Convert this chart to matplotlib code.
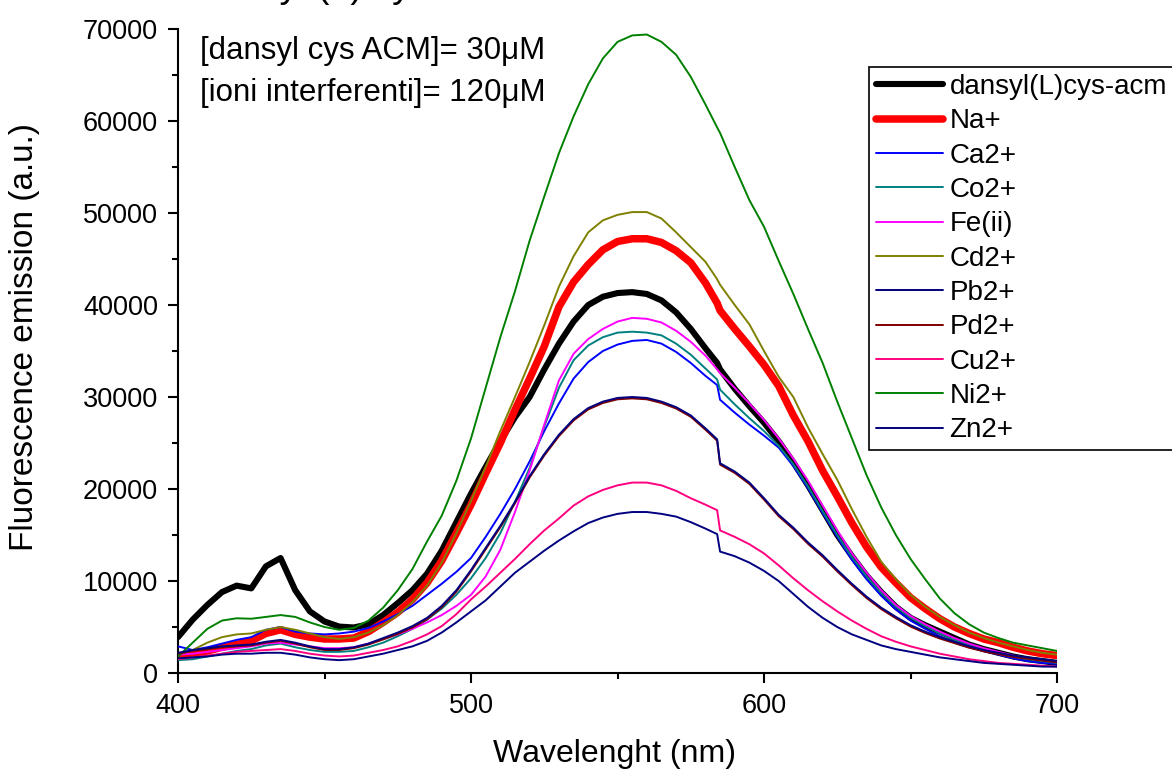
import matplotlib
matplotlib.use("Agg")
import matplotlib.pyplot as plt
from matplotlib.ticker import MultipleLocator

plt.rcParams['font.family'] = ['Liberation Sans', 'DejaVu Sans']

wavelength = [400, 405, 410, 415, 420, 425, 430, 435, 440, 445, 450, 455, 460, 465, 470,
              475, 480, 485, 490, 495, 500, 505, 510, 515, 520, 525, 530, 535, 540, 545,
              550, 555, 560, 565, 570, 575, 580, 584, 585, 590, 595, 600, 605, 610, 615,
              620, 625, 630, 635, 640, 645, 650, 655, 660, 665, 670, 675, 680, 685, 690,
              695, 700]

dansyl = [3900, 5800, 7400, 8800, 9500, 9200, 11600, 12500, 9000, 6700, 5600, 5050, 4950, 5300, 6300,
          7600, 9000, 10800, 13300, 16400, 19500, 22400, 25200, 27800, 30000, 33000, 35800, 38200, 40000, 40900,
          41300, 41400, 41200, 40500, 39200, 37400, 35300, 33700, 33000, 30900, 29000, 27200, 25200, 22900, 20400,
          17700, 15000, 12700, 10600, 8800, 7200, 6000, 5200, 4500, 3800, 3100, 2600, 2200, 1800, 1500,
          1300, 1100]
na = [1800, 2100, 2400, 2800, 3100, 3500, 4300, 4700, 4200, 3900, 3700, 3700, 3800, 4500, 5500,
      6600, 8000, 9800, 12200, 15200, 18300, 21700, 25000, 28600, 32000, 35500, 39800, 42500, 44400, 46000,
      46900, 47200, 47200, 46800, 45900, 44600, 42400, 40200, 39400, 37400, 35500, 33500, 31200, 28000, 25200,
      22000, 19200, 16300, 13700, 11500, 9800, 8200, 7000, 5900, 5000, 4300, 3700, 3300, 2800, 2400,
      2100, 1900]
ca = [2900, 2500, 2800, 3200, 3600, 3900, 4700, 5000, 4500, 4300, 4200, 4300, 4500, 4900, 5600,
      6400, 7300, 8500, 9700, 11000, 12500, 14800, 17300, 20000, 23000, 26300, 29300, 32000, 33800, 35000,
      35700, 36100, 36200, 35800, 34900, 33700, 32300, 31300, 29700, 28300, 27000, 25800, 24500, 22500, 20100,
      17400, 14800, 12300, 10200, 8400, 6900, 5700, 4800, 4000, 3300, 2800, 2400, 2000, 1600, 1300,
      1100, 1000]
co = [1400, 1500, 1800, 2100, 2400, 2600, 3000, 3200, 2800, 2500, 2300, 2300, 2400, 2800, 3300,
      4000, 4800, 5800, 7000, 8500, 10300, 12500, 15200, 18600, 22300, 26800, 31000, 34000, 35600, 36500,
      37000, 37100, 37000, 36700, 35800, 34600, 33100, 31900, 30800, 29200, 27700, 26300, 24700, 22700, 20300,
      17600, 15000, 12600, 10500, 8700, 7200, 6000, 5100, 4300, 3600, 3000, 2600, 2200, 1800, 1500,
      1300, 1100]
fe = [2000, 2100, 2300, 2500, 2700, 2900, 3200, 3300, 3100, 2900, 2700, 2700, 2800, 3200, 3700,
      4200, 4800, 5500, 6300, 7300, 8500, 10500, 13400, 17500, 22000, 27000, 31800, 34700, 36300, 37400,
      38200, 38600, 38500, 38100, 37200, 36000, 34500, 33000, 32600, 31000, 29300, 27500, 25500, 23300, 20900,
      18200, 15500, 13000, 10900, 9000, 7400, 6200, 5300, 4500, 3800, 3200, 2700, 2300, 1900, 1600,
      1400, 1200]
cd = [2000, 2500, 3300, 3900, 4200, 4300, 4700, 5000, 4700, 4300, 3900, 3700, 3900, 4400, 5200,
      6300, 7700, 9500, 12000, 15200, 18700, 22400, 26300, 30000, 33800, 37800, 42000, 45300, 47900, 49200,
      49800, 50100, 50100, 49400, 47900, 46300, 44700, 42800, 42200, 40000, 37900, 35000, 32200, 30000, 26700,
      23800, 21000, 17800, 14800, 12100, 10200, 8500, 7200, 6100, 5200, 4400, 3800, 3300, 2900, 2500,
      2200, 2000]
pb = [2200, 2500, 2700, 2900, 3000, 3100, 3400, 3600, 3300, 2900, 2600, 2600, 2800, 3200, 3800,
      4400, 5100, 6000, 7300, 9000, 11200, 13600, 16000, 18600, 21400, 23800, 25900, 27600, 28800, 29500,
      29900, 30000, 29900, 29500, 28900, 28000, 26600, 25400, 22800, 21900, 20700, 19000, 17200, 15800, 14200,
      12800, 11200, 9700, 8300, 7100, 6100, 5200, 4500, 3900, 3400, 2900, 2500, 2200, 1900, 1700,
      1500, 1300]
pd_ = [2100, 2400, 2600, 2800, 2900, 3000, 3300, 3500, 3200, 2800, 2500, 2500, 2700, 3100, 3650,
       4250, 4950, 5850, 7150, 8850, 11050, 13450, 15850, 18450, 21250, 23650, 25750, 27450, 28650, 29350,
       29750, 29850, 29750, 29350, 28750, 27850, 26450, 25250, 22650, 21750, 20550, 18850, 17050, 15650, 14050,
       12650, 11050, 9550, 8150, 6950, 5950, 5050, 4350, 3750, 3250, 2750, 2350, 2050, 1750, 1550,
       1350, 1150]
cu = [1500, 1700, 1900, 2100, 2300, 2400, 2500, 2600, 2400, 2100, 1900, 1800, 1900, 2200, 2500,
      2900, 3500, 4200, 5100, 6400, 8000, 9400, 10900, 12400, 14000, 15500, 16800, 18200, 19200, 19900,
      20400, 20700, 20700, 20400, 19800, 19000, 18300, 17700, 15500, 14800, 14000, 13000, 11700, 10300, 9000,
      7800, 6700, 5700, 4800, 4000, 3400, 2900, 2500, 2100, 1800, 1500, 1300, 1100, 1000, 900,
      800, 700]
ni = [1800, 3300, 4800, 5700, 5950, 5900, 6100, 6300, 6100, 5500, 5000, 4700, 4900, 5700, 7100,
      9000, 11300, 14300, 17100, 20900, 25500, 31000, 36500, 41500, 47000, 51800, 56500, 60500, 64000, 66800,
      68600, 69300, 69400, 68600, 67200, 64800, 61800, 59300, 58700, 55000, 51400, 48500, 44800, 41200, 37400,
      33700, 29500, 25500, 21500, 18000, 15000, 12400, 10200, 8100, 6500, 5300, 4400, 3800, 3300, 3000,
      2700, 2400]
zn = [1600, 1700, 1800, 2000, 2100, 2100, 2200, 2200, 2000, 1700, 1500, 1400, 1500, 1800, 2100,
      2500, 2900, 3500, 4400, 5500, 6700, 7900, 9400, 10900, 12100, 13300, 14400, 15400, 16300, 16900,
      17300, 17500, 17500, 17300, 17000, 16400, 15700, 15100, 13200, 12700, 12000, 11100, 10000, 8600, 7200,
      6000, 5000, 4200, 3600, 3000, 2600, 2300, 2000, 1700, 1500, 1300, 1100, 1000, 900, 800,
      700, 700]

labels = ["dansyl(L)cys-acm", "Na+", "Ca2+", "Co2+", "Fe(ii)", "Cd2+", "Pb2+", "Pd2+", "Cu2+", "Ni2+", "Zn2+"]
series = [dansyl, na, ca, co, fe, cd, pb, pd_, cu, ni, zn]
colors = ["#000000", "#ff0000", "#0000ff", "#008080", "#ff00ff", "#808000",
          "#000080", "#800000", "#ff0080", "#008000", "#000080"]
widths = [4.4, 5.4, 1.4, 1.4, 1.4, 1.4, 1.4, 1.4, 1.4, 1.4, 1.4]
zorders = [2, 2, 3, 3, 3, 3, 3.2, 3.1, 3, 3, 3]

fig = plt.figure(figsize=(11.72, 7.69), dpi=100)
ax = fig.add_axes([0.1519, 0.1248, 0.7500, 0.8375])

lines = []
for y, lab, c, w, z in zip(series, labels, colors, widths, zorders):
    ln, = ax.plot(wavelength, y, color=c, lw=w, label=lab, zorder=z,
                  solid_capstyle='round', solid_joinstyle='round')
    lines.append(ln)

ax.set_xlim(400, 700)
ax.set_ylim(0, 70000)
ax.xaxis.set_major_locator(MultipleLocator(100))
ax.xaxis.set_minor_locator(MultipleLocator(50))
ax.yaxis.set_major_locator(MultipleLocator(10000))
ax.yaxis.set_minor_locator(MultipleLocator(5000))
ax.tick_params(which='major', direction='out', length=7.5, width=1.5, labelsize=19.5, pad=7)
ax.tick_params(which='minor', direction='out', length=4, width=1.5)
for s in ['top', 'right']:
    ax.spines[s].set_visible(False)
for s in ['left', 'bottom']:
    ax.spines[s].set_linewidth(1.5)

ax.set_xlabel("Wavelenght (nm)", fontsize=23)
ax.set_ylabel("Fluorescence emission (a.u.)", fontsize=24)
ax.xaxis.set_label_coords(0.497, -0.103)
ax.yaxis.set_label_coords(-0.157, 0.522)

ax.text(0.025, 0.966, "[dansyl cys ACM]= 30\u03bcM", transform=ax.transAxes,
        fontsize=22.5, va='center', ha='left')
ax.text(0.025, 0.900, "[ioni interferenti]= 120\u03bcM", transform=ax.transAxes,
        fontsize=22.5, va='center', ha='left')

fig.text(198 / 1172, 1.0039, "dansyl (L) cys-acm", fontsize=27, ha='left', va='baseline')

leg = fig.legend(handles=lines, loc='upper left', bbox_to_anchor=(869 / 1172, 1 - 67 / 769),
                 fontsize=20, frameon=True, fancybox=False, framealpha=1, edgecolor='black',
                 handlelength=2.4, handletextpad=0.25, labelspacing=0.3, borderpad=0.25,
                 borderaxespad=0)
leg.get_frame().set_linewidth(1.2)

fig.savefig("out.png", dpi=100)
